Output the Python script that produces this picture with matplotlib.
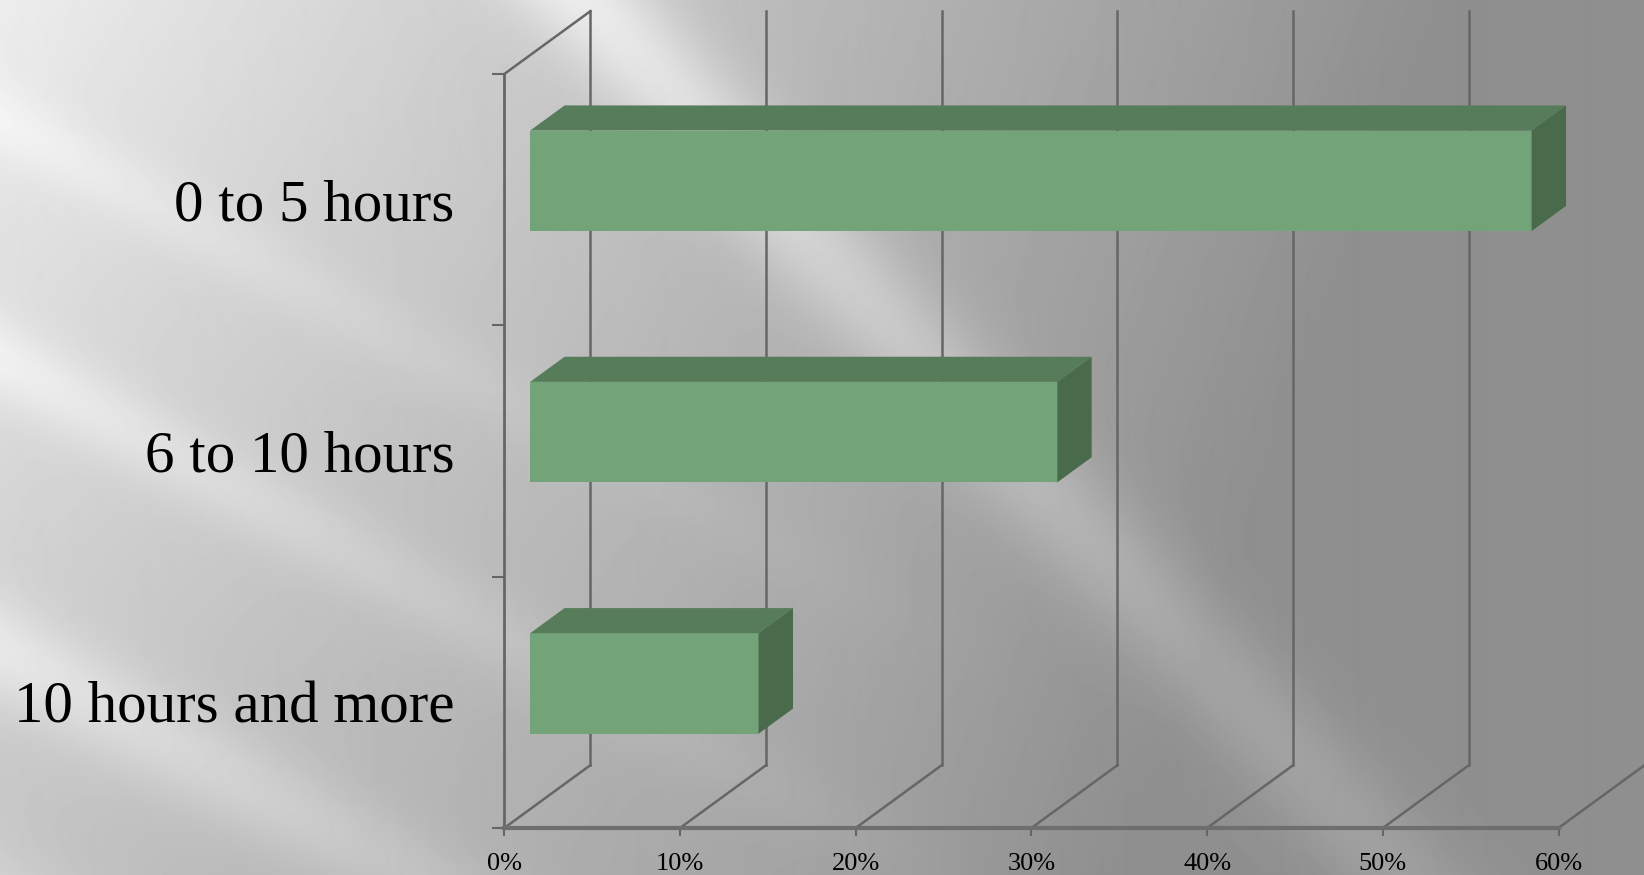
import numpy as np
import matplotlib
matplotlib.use("Agg")
import matplotlib.pyplot as plt
from matplotlib.patches import Polygon

# data
categories = ["0 to 5 hours", "6 to 10 hours", "10 hours and more"]
values = [57, 30, 13]          # percent
xticks = [0, 10, 20, 30, 40, 50, 60]
xtick_labels = ["0%", "10%", "20%", "30%", "40%", "50%", "60%"]

# style
FRONT = "#73a379"
TOP = "#577c5a"
SIDE = "#4a6a4c"
LINE = "#666666"
plt.rcParams['font.family'] = ['Liberation Serif', 'DejaVu Serif']

# oblique "3d" depth offset in data units (x in %, y in category units)
DX, DY = 4.9, 0.25
Z0, Z1 = 0.3, 0.7       # bar depth range (fraction of full depth)
BAR_H = 0.4

W, H = 1644, 875
fig = plt.figure(figsize=(W / 100, H / 100), dpi=100)

# background: grey gradient with diagonal light streaks
bg = fig.add_axes([0, 0, 1, 1], zorder=0)
yy, xx = np.mgrid[0:H, 0:W].astype(float)
u, v = xx / W, yy / H
img = np.maximum(0.56, 0.93 - 0.42 * (u + 0.2 * v) - 0.08 * v * np.clip(1 - 2 * u, 0, 1))
# main beam through the middle
w = yy - 1.07 * xx + 628
img += 0.16 * np.exp(-(w / 80.0) ** 2) * np.clip(1.25 - u, 0, 1)
# softer streaks on the left
for off, amp, wid in [(-360, 0.08, 45), (-650, 0.10, 55), (-120, 0.05, 40), (-900, 0.06, 60)]:
    w2 = yy - 0.55 * xx + off
    img += amp * np.exp(-(w2 / wid) ** 2) * np.clip(1 - 1.6 * u, 0, 1)
img = np.clip(img, 0, 1)
bg.imshow(img, cmap="gray", vmin=0, vmax=1, aspect="auto", interpolation="bilinear")
bg.axis("off")

# main axes = front plane of the chart
left, right, bottom, top = 504.3, 1558.5, 828, 74
ax = fig.add_axes([left / W, 1 - bottom / H, (right - left) / W, (bottom - top) / H], zorder=1)
ax.set_facecolor("none")
ax.set_xlim(0, 60)
ax.set_ylim(0, 3)
for s in ["top", "right"]:
    ax.spines[s].set_visible(False)
ax.spines["left"].set_color(LINE)
ax.spines["left"].set_linewidth(2)
ax.spines["bottom"].set_color("#6e6e6e")
ax.spines["bottom"].set_linewidth(3)

# walls and gridlines
lw = 1.8
for t in xticks:
    ax.plot([t, t + DX], [0, DY], color=LINE, lw=lw, clip_on=False, zorder=1)
    ax.plot([t + DX, t + DX], [DY, 3 + DY], color=LINE, lw=lw, clip_on=False, zorder=1)
ax.plot([0, DX], [3, 3 + DY], color=LINE, lw=lw, clip_on=False, zorder=1)

# bars
ypos = [2.5, 1.5, 0.5]
ax.barh([y + Z0 * DY for y in ypos], values, left=Z0 * DX, height=BAR_H,
        color=FRONT, edgecolor="none", zorder=3)
for y, val in zip(ypos, values):
    yt = y + BAR_H / 2
    yb = y - BAR_H / 2
    top_face = [(Z0 * DX, yt + Z0 * DY), (val + Z0 * DX, yt + Z0 * DY),
                (val + Z1 * DX, yt + Z1 * DY), (Z1 * DX, yt + Z1 * DY)]
    side_face = [(val + Z0 * DX, yb + Z0 * DY), (val + Z1 * DX, yb + Z1 * DY),
                 (val + Z1 * DX, yt + Z1 * DY), (val + Z0 * DX, yt + Z0 * DY)]
    ax.add_patch(Polygon(top_face, closed=True, color=TOP, lw=0, zorder=3, clip_on=False))
    ax.add_patch(Polygon(side_face, closed=True, color=SIDE, lw=0, zorder=3, clip_on=False))

# ticks
ax.set_yticks([0, 1, 2, 3])
ax.set_yticklabels([])
ax.set_yticks(ypos, minor=True)
ax.set_yticklabels(categories, minor=True)
ax.tick_params(axis="y", which="major", length=8.5, width=1.5, color=LINE)
ax.tick_params(axis="y", which="minor", length=0, pad=36, labelsize=42.5)
ax.set_xticks(xticks)
ax.set_xticklabels(xtick_labels)
ax.tick_params(axis="x", length=6, width=1.5, color=LINE, pad=12, labelsize=19)

fig.savefig("out.png", dpi=100)
